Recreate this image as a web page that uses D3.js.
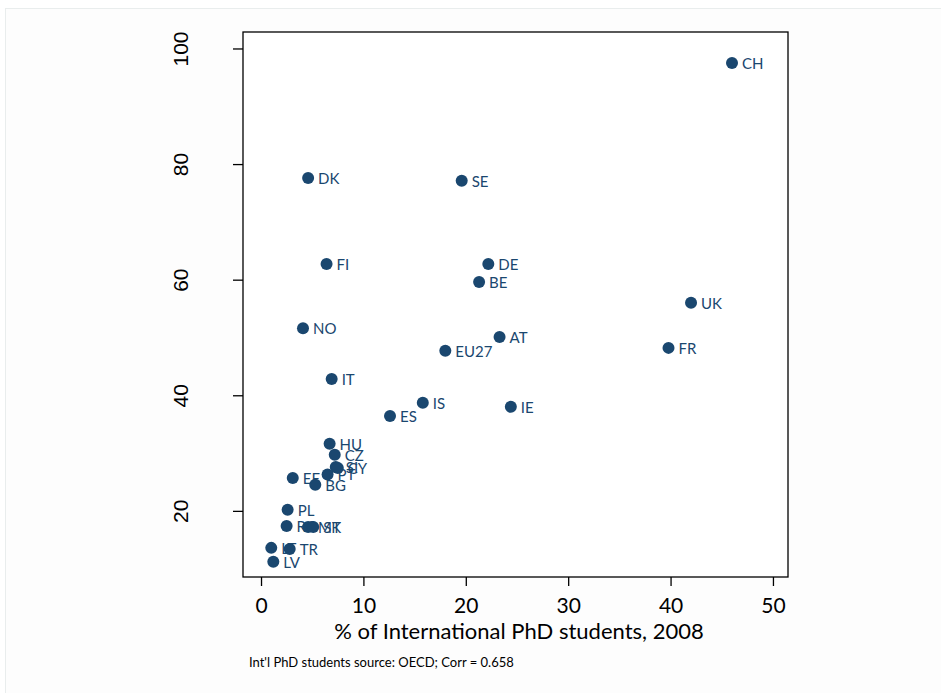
<!DOCTYPE html>
<html>
<head>
<meta charset="utf-8">
<script src="https://d3js.org/d3.v7.min.js"></script>
<style>
  body { margin: 0; background: #fff; }
  svg { display: block; }
</style>
</head>
<body>
<div id="chart"></div>
<script>
// countries, % international PhD students (x) and the y score
var countries = ["CH","DK","SE","FI","DE","BE","UK","NO","AT","EU27","FR","IT","IS","IE","ES",
                 "HU","CZ","SI","CY","PT","BG","EE","PL","RO","MT","SK","LT","TR","LV"];
var intlPhd   = [46.0, 4.6, 19.6, 6.4, 22.2, 21.3, 42.0, 4.1, 23.3, 18.0, 39.8, 6.9, 15.8, 24.4, 12.6,
                 6.7, 7.2, 7.3, 7.5, 6.5, 5.3, 3.1, 2.6, 2.5, 4.6, 5.1, 1.0, 2.8, 1.2];
var yValues   = [97.5, 77.6, 77.1, 62.7, 62.7, 59.6, 56.0, 51.6, 50.1, 47.7, 48.2, 42.8, 38.7, 38.0, 36.4,
                 31.6, 29.7, 27.6, 27.4, 26.3, 24.5, 25.7, 20.2, 17.4, 17.2, 17.2, 13.6, 13.4, 11.2];
var xTicks = [0, 10, 20, 30, 40, 50];
var yTicks = [20, 40, 60, 80, 100];

var data = countries.map(function(c, i) { return {name: c, x: intlPhd[i], y: yValues[i]}; });

var W = 941, H = 693;
var box = {left: 243, right: 788, top: 32, bottom: 577};
var navy = "#1a476f";

var svg = d3.select("#chart").append("svg")
    .attr("width", W)
    .attr("height", H);

// faint outer frame
svg.append("rect")
    .attr("x", 5.5).attr("y", 8.5)
    .attr("width", W).attr("height", H)
    .attr("fill", "#fdfdfd")
    .attr("stroke", "#e9eded");

var x = d3.scaleLinear()
    .domain([-1.76, 51.47])
    .range([box.left, box.right]);

var y = d3.scaleLinear()
    .domain([8.56, 102.85])
    .range([box.bottom, box.top]);

// plot area
svg.append("rect")
    .attr("x", box.left).attr("y", box.top)
    .attr("width", box.right - box.left)
    .attr("height", box.bottom - box.top)
    .attr("fill", "#fff")
    .attr("stroke", "#000")
    .attr("stroke-width", 1.3);

// x axis
var xAxis = svg.append("g")
    .attr("transform", "translate(0," + box.bottom + ")")
    .call(d3.axisBottom(x).tickValues(xTicks).tickSize(9).tickPadding(12).tickFormat(d3.format("d")));
xAxis.select(".domain").remove();
xAxis.selectAll("line").attr("stroke", "#000").attr("stroke-width", 1.3);
xAxis.selectAll("text")
    .attr("fill", "#000")
    .style("font-family", "Lato, 'Open Sans', sans-serif")
    .style("font-size", "21px");

// y axis, labels rotated
var yAxis = svg.append("g")
    .attr("transform", "translate(" + box.left + ",0)")
    .call(d3.axisLeft(y).tickValues(yTicks).tickSize(10).tickFormat(d3.format("d")));
yAxis.select(".domain").remove();
yAxis.selectAll("line").attr("stroke", "#000").attr("stroke-width", 1.3);
yAxis.selectAll("text")
    .attr("fill", "#000")
    .attr("x", null)
    .attr("text-anchor", "middle")
    .attr("transform", "translate(-62,0) rotate(-90)")
    .attr("dy", "0.35em")
    .style("font-family", "'Liberation Sans', Arial, sans-serif")
    .style("font-size", "21px");

// x title
svg.append("text")
    .attr("x", (x(0) + x(50)) / 2 + 2)
    .attr("y", 639)
    .attr("text-anchor", "middle")
    .style("font-family", "Lato, 'Open Sans', sans-serif")
    .style("font-size", "22px")
    .text("% of International PhD students, 2008");

// note
svg.append("text")
    .attr("x", 249)
    .attr("y", 667)
    .style("font-family", "Lato, 'Open Sans', sans-serif")
    .style("font-size", "13px")
    .text("Int'l PhD students source: OECD; Corr = 0.658");

// points
svg.append("g")
    .selectAll("circle")
    .data(data)
    .enter()
    .append("circle")
    .attr("cx", function(d) { return x(d.x); })
    .attr("cy", function(d) { return y(d.y); })
    .attr("r", 6)
    .style("fill", navy);

// labels
svg.append("g")
    .selectAll("text")
    .data(data)
    .enter()
    .append("text")
    .attr("x", function(d) { return x(d.x) + 10; })
    .attr("y", function(d) { return y(d.y) + 6; })
    .style("fill", navy)
    .style("font-family", "Lato, 'Open Sans', sans-serif")
    .style("font-size", "15px")
    .text(function(d) { return d.name; });
</script>
</body>
</html>
